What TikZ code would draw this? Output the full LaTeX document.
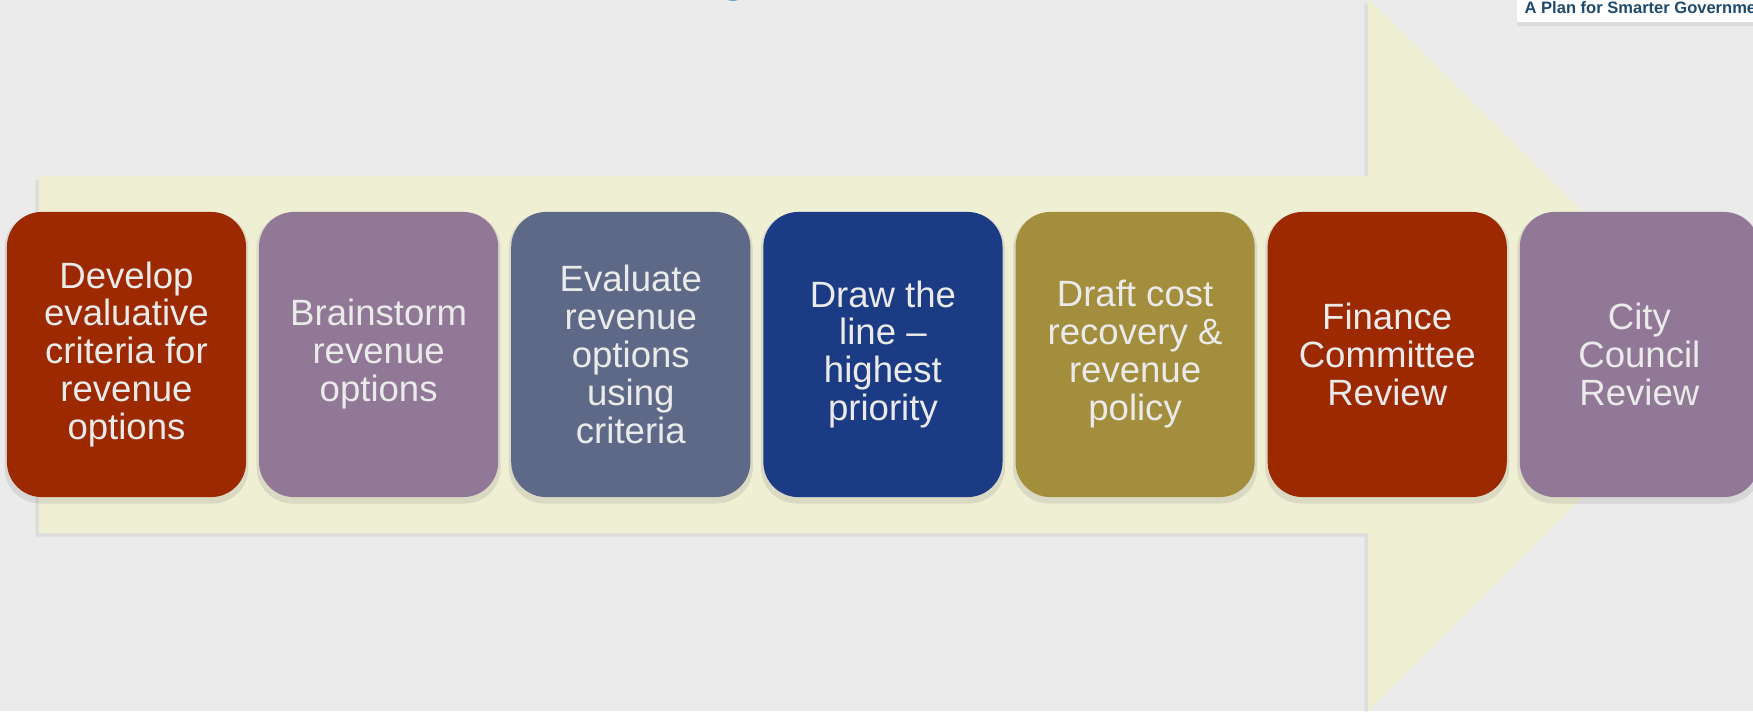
\documentclass[tikz,border=0pt]{standalone}
\usepackage{fontspec}
\setmainfont{Liberation Sans}
\usetikzlibrary{positioning,shadows}

\definecolor{pagebg}{HTML}{EBEBEB}
\definecolor{arrowfill}{HTML}{EFEFD4}
\definecolor{rust}{HTML}{9C2900}
\definecolor{mauve}{HTML}{917896}
\definecolor{slate}{HTML}{5E6987}
\definecolor{navy}{HTML}{1C3B85}
\definecolor{olive}{HTML}{A38E3D}
\definecolor{stagetext}{HTML}{EAEAEA}
\definecolor{planblue}{HTML}{1E4A6E}
\definecolor{dotblue}{HTML}{7FA3D6}

\begin{document}
\begin{tikzpicture}[x=0.01cm,y=-0.01cm,node distance=2.52cm,on grid,
    stage/.style={rounded corners=0.35cm,minimum width=2.39cm,minimum height=2.85cm,inner sep=0pt,align=center,text=stagetext,font=\fontsize{10.4}{10.8}\selectfont,drop shadow={opacity=0.18,shadow xshift=0pt,shadow yshift=-1pt,shadow scale=1.02}}]
\clip (0,0) rectangle (1753,711);
\fill[pagebg] (0,0) rectangle (1753,711);

% big arrow behind the steps
\fill[arrowfill,drop shadow={opacity=0.12,shadow xshift=-1pt,shadow yshift=-1pt}]
    (39,176) -- (1368,176) -- (1368,-2) -- (1727,354.5) -- (1368,711) -- (1368,533) -- (39,533) -- cycle;

% bits cut off at the top
\fill[dotblue] (733,-14) circle (15);
\fill[white,drop shadow={opacity=0.15,shadow xshift=0pt,shadow yshift=-1pt}] (1517,-10) rectangle (1770,22);
\node[anchor=base west,inner sep=0pt,text=planblue,font=\bfseries\fontsize{4.7}{5}\selectfont] (plan) at (1524,13) {A Plan for Smarter Governme};

% steps
\node[stage,fill=rust] (develop) at (126.5,354.5) {Develop\\evaluative\\criteria for\\revenue\\options};
\node[stage,fill=mauve,right=of develop] (brainstorm) {Brainstorm\\revenue\\options};
\node[stage,fill=slate,right=of brainstorm] (evaluate) {Evaluate\\revenue\\options\\using\\criteria};
\node[stage,fill=navy,right=of evaluate] (drawline) {Draw the\\line --\\highest\\priority};
\node[stage,fill=olive,right=of drawline] (draft) {Draft cost\\recovery \&\\revenue\\policy};
\node[stage,fill=rust,right=of draft] (finance) {Finance\\Committee\\Review};
\node[stage,fill=mauve,right=of finance] (council) {City\\Council\\Review};
\end{tikzpicture}
\end{document}
